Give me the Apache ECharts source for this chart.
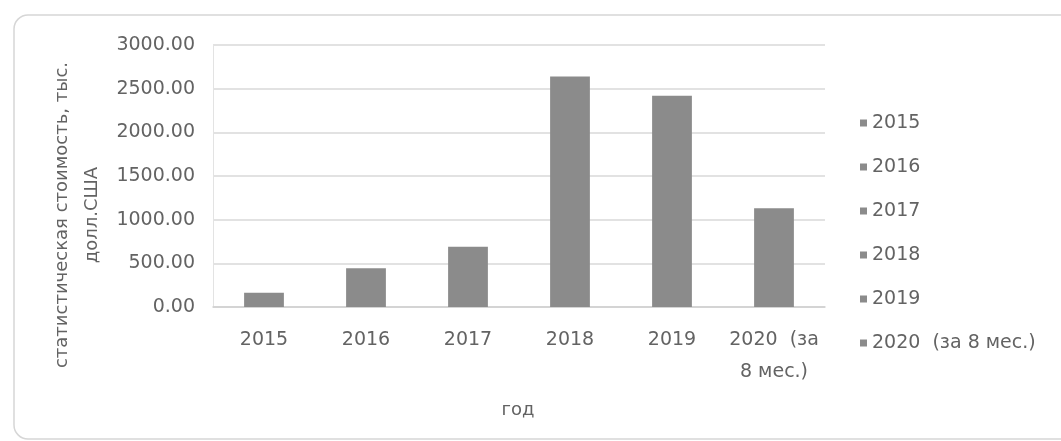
<!DOCTYPE html>
<html>
<head>
<meta charset="utf-8">
<script src="https://cdn.jsdelivr.net/npm/echarts@6/dist/echarts.min.js"></script>
<style>
html,body{margin:0;padding:0;background:#fff;}
#c{width:1061px;height:441px;}
</style>
</head>
<body>
<div id="c"></div>
<script>
const categories = ['2015', '2016', '2017', '2018', '2019', '2020  (за 8 мес.)'];
const values = [164, 444, 691, 2639, 2419, 1132];
const yTicks = [0, 500, 1000, 1500, 2000, 2500, 3000];
const yTitle = 'статистическая стоимость, тыс.\nдолл.США';
const xTitle = 'год';

const FONT = 'DejaVu Sans';
const TXT = '#636363';
const BAR = '#8b8b8b';

const series = categories.map((name, i) => ({
  name: name,
  type: 'bar',
  stack: 'all',
  barWidth: '39%',
  itemStyle: { color: BAR },
  data: categories.map((c, j) => (j === i ? values[i] : '-'))
}));

const chart = echarts.init(document.getElementById('c'), null, { renderer: 'canvas' });
chart.setOption({
  animation: false,
  backgroundColor: '#fff',
  textStyle: { fontFamily: FONT },
  graphic: [{
    type: 'rect',
    shape: { x: 14, y: 15, width: 1060, height: 424, r: 14 },
    style: { fill: 'none', stroke: '#d6d6d6', lineWidth: 1.5 },
    z: -1
  }, {
    type: 'text',
    x: 518, y: 410,
    style: { text: xTitle, font: '18px "' + FONT + '"', fill: TXT, align: 'center', verticalAlign: 'middle' }
  }, {
    type: 'text',
    x: 77, y: 215,
    rotation: Math.PI / 2,
    style: { text: yTitle, font: '18px "' + FONT + '"', fill: TXT, align: 'center', verticalAlign: 'middle', lineHeight: 30 }
  }],
  grid: { left: 213, right: 236, top: 45, bottom: 134 },
  legend: {
    orient: 'vertical',
    left: 855,
    top: 108,
    itemWidth: 7,
    itemHeight: 7,
    itemGap: 24,
    icon: 'rect',
    data: categories,
    textStyle: { color: TXT, fontSize: 19, fontFamily: FONT, lineHeight: 20 }
  },
  xAxis: {
    type: 'category',
    data: categories,
    axisLine: { lineStyle: { color: '#cfcfcf', width: 1.5 } },
    axisTick: { show: false },
    axisLabel: {
      interval: 0,
      hideOverlap: false,
      color: TXT, fontSize: 19, fontFamily: FONT, margin: 17, lineHeight: 32,
      formatter: v => v.replace('(за ', '(за\n')
    }
  },
  yAxis: {
    type: 'value',
    min: yTicks[0],
    max: yTicks[yTicks.length - 1],
    interval: yTicks[1] - yTicks[0],
    axisLine: { show: true, lineStyle: { color: '#e3e3e3' } },
    axisTick: { show: false },
    splitLine: { lineStyle: { color: '#d9d9d9', width: 1.5 } },
    axisLabel: { color: TXT, fontSize: 19, fontFamily: FONT, margin: 18, formatter: v => v.toFixed(2) }
  },
  series: series
});
</script>
</body>
</html>
